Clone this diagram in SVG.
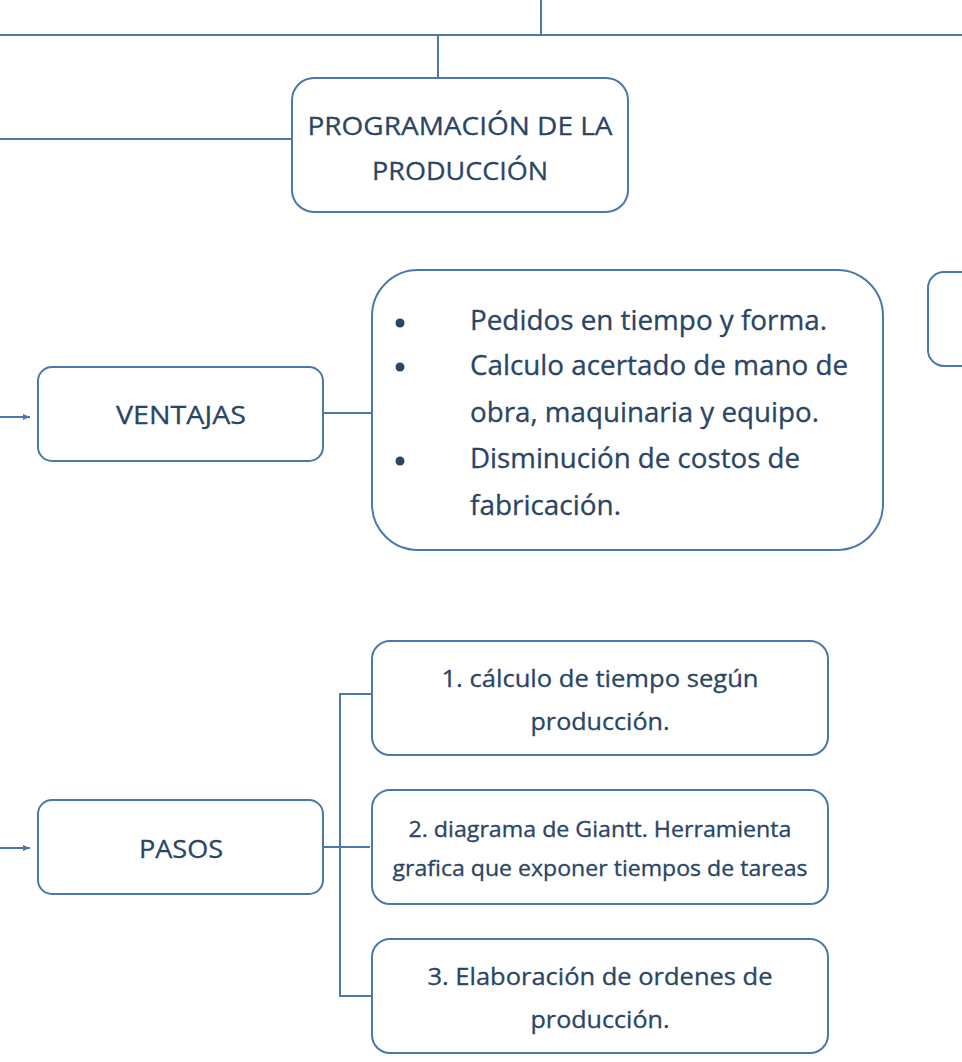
<svg xmlns="http://www.w3.org/2000/svg" width="962" height="1062" viewBox="0 0 962 1062">
<defs>
<marker id="arr" markerWidth="8" markerHeight="8" refX="7" refY="4" orient="auto" markerUnits="userSpaceOnUse">
<path d="M0,1 L7,4 L0,7 Z" fill="#4A78AA"/>
</marker>
<style>
.box{fill:#fff;stroke:#4A78AA;stroke-width:2}
.ln{fill:none;stroke:#4A78AA;stroke-width:2}
.t{font-family:"Open Sans","Noto Sans",sans-serif;fill:#2A4565;stroke:#2A4565;stroke-width:0.3}
.c{text-anchor:middle}
</style>
</defs>
<rect width="962" height="1062" fill="#fff"/>
<g id="connectors">
<path class="ln" d="M541,0 V35"/>
<path class="ln" d="M0,35 H962"/>
<path class="ln" d="M438,35 V78"/>
<path class="ln" d="M0,139 H292"/>
<path class="ln" d="M0,417 H30" marker-end="url(#arr)"/>
<path class="ln" d="M323,413 H372"/>
<path class="ln" d="M0,848 H30" marker-end="url(#arr)"/>
<path class="ln" d="M323,847 H370"/>
<path class="ln" d="M372,694 H340 V996 H372"/>
</g>
<g id="programacion">
<rect class="box" x="292" y="78" width="336" height="134" rx="22"/>
<text class="t c" x="460" y="135" font-size="26" textLength="305" lengthAdjust="spacingAndGlyphs">PROGRAMACIÓN DE LA</text>
<text class="t c" x="460" y="180" font-size="26" textLength="176" lengthAdjust="spacingAndGlyphs">PRODUCCIÓN</text>
</g>
<g id="partial-box">
<rect class="box" x="928" y="272" width="60" height="94" rx="16"/>
</g>
<g id="ventajas">
<rect class="box" x="38" y="367" width="285" height="94" rx="14"/>
<text class="t c" x="181" y="424" font-size="26" textLength="130" lengthAdjust="spacingAndGlyphs">VENTAJAS</text>
</g>
<g id="ventajas-list">
<rect class="box" x="372" y="270" width="511" height="280" rx="46"/>
<circle cx="400" cy="323" r="4.5" fill="#2A4565"/>
<circle cx="400" cy="367" r="4.5" fill="#2A4565"/>
<circle cx="400" cy="461" r="4.5" fill="#2A4565"/>
<text class="t" x="470" y="330" font-size="26.5" textLength="357" lengthAdjust="spacingAndGlyphs">Pedidos en tiempo y forma.</text>
<text class="t" x="470" y="375" font-size="26.5" textLength="378" lengthAdjust="spacingAndGlyphs">Calculo acertado de mano de</text>
<text class="t" x="470" y="422" font-size="26.5" textLength="349" lengthAdjust="spacingAndGlyphs">obra, maquinaria y equipo.</text>
<text class="t" x="470" y="468" font-size="26.5" textLength="330" lengthAdjust="spacingAndGlyphs">Disminución de costos de</text>
<text class="t" x="470" y="515" font-size="26.5" textLength="151" lengthAdjust="spacingAndGlyphs">fabricación.</text>
</g>
<g id="pasos">
<rect class="box" x="38" y="800" width="285" height="94" rx="14"/>
<text class="t c" x="181" y="858" font-size="26" textLength="84" lengthAdjust="spacingAndGlyphs">PASOS</text>
</g>
<g id="paso1">
<rect class="box" x="372" y="641" width="456" height="114" rx="18"/>
<text class="t c" x="600" y="687" font-size="23.5" textLength="317" lengthAdjust="spacingAndGlyphs">1. cálculo de tiempo según</text>
<text class="t c" x="600" y="730" font-size="23.5" textLength="139" lengthAdjust="spacingAndGlyphs">producción.</text>
</g>
<g id="paso2">
<rect class="box" x="372" y="790" width="456" height="114" rx="18"/>
<text class="t c" x="600" y="837" font-size="21" textLength="383" lengthAdjust="spacingAndGlyphs">2. diagrama de Giantt. Herramienta</text>
<text class="t c" x="600" y="876" font-size="21" textLength="415" lengthAdjust="spacingAndGlyphs">grafica que exponer tiempos de tareas</text>
</g>
<g id="paso3">
<rect class="box" x="372" y="939" width="456" height="114" rx="18"/>
<text class="t c" x="600" y="985" font-size="23.5" textLength="345" lengthAdjust="spacingAndGlyphs">3. Elaboración de ordenes de</text>
<text class="t c" x="600" y="1028" font-size="23.5" textLength="139" lengthAdjust="spacingAndGlyphs">producción.</text>
</g>
</svg>
